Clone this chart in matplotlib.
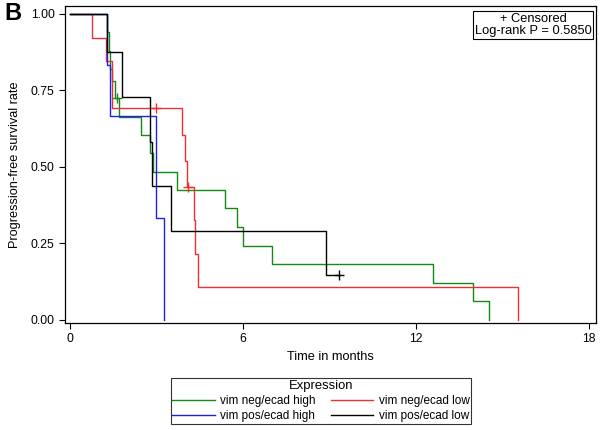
import matplotlib.pyplot as plt

plt.rcParams['font.family'] = ['Liberation Sans', 'DejaVu Sans']

# Kaplan-Meier step data (time in months, survival after each time)
green_t = [0, 1.3, 1.35, 1.4, 1.45, 1.55, 1.7, 2.46, 2.78, 2.9, 3.7, 5.4, 5.8, 6.0, 7.0, 12.6, 14.0, 14.55]
green_s = [1.0, 0.94, 0.88, 0.82, 0.78, 0.725, 0.663, 0.604, 0.545, 0.484, 0.425, 0.366, 0.304, 0.242, 0.183, 0.121, 0.061, 0.0]
green_cens_t = [1.64]
green_cens_s = [0.725]

red_t = [0, 0.76, 1.27, 1.47, 3.9, 4.0, 4.06, 4.3, 4.34, 4.44, 15.55]
red_s = [1.0, 0.923, 0.846, 0.692, 0.606, 0.519, 0.433, 0.325, 0.217, 0.108, 0.0]
red_cens_t = [3.0, 4.1]
red_cens_s = [0.692, 0.433]

blue_t = [0, 1.3, 1.4, 3.0, 3.27]
blue_s = [1.0, 0.833, 0.667, 0.333, 0.0]
blue_cens_t = []
blue_cens_s = []

black_t = [0, 1.3, 1.8, 2.78, 2.85, 3.5, 8.9, 9.35]
black_s = [1.0, 0.875, 0.729, 0.583, 0.4375, 0.292, 0.146, 0.146]
black_cens_t = [9.35]
black_cens_s = [0.146]

groups = ["vim neg/ecad high", "vim neg/ecad low", "vim pos/ecad high", "vim pos/ecad low"]
colors = ["#138a13", "#f03030", "#2020e0", "#000000"]

fig = plt.figure(figsize=(6.02, 4.3), dpi=100)
ax = fig.add_axes([65/602, 1-323/430, 531/602, 317/430])

series = [(green_t, green_s, green_cens_t, green_cens_s),
          (red_t, red_s, red_cens_t, red_cens_s),
          (blue_t, blue_s, blue_cens_t, blue_cens_s),
          (black_t, black_s, black_cens_t, black_cens_s)]
lines = []
for (t, s, ct, cs), name, c in zip(series, groups, colors):
    ln, = ax.step(t, s, where='post', color=c, lw=1.0, label=name)
    lines.append(ln)
    if ct:
        ax.plot(ct, cs, ls='none', marker='+', ms=7, mew=1.0, color=c)

ax.set_xlim(-0.17, 18.26)
ax.set_ylim(-0.01, 1.026)
ax.set_xticks([0, 6, 12, 18])
ax.set_yticks([0, 0.25, 0.5, 0.75, 1.0])
ax.set_yticklabels(["0.00", "0.25", "0.50", "0.75", "1.00"])
ax.tick_params(labelsize=8.8, length=4, width=0.8)
ax.set_xlabel('Time in months', fontsize=9.2)
ax.set_ylabel('Progression-free survival rate', fontsize=9.2, labelpad=7)
for sp in ax.spines.values():
    sp.set_linewidth(0.9)

fig.text(533/602, 1-25/430, "+ Censored\nLog-rank P = 0.5850", ha='center', va='center',
         fontsize=9.3, linespacing=1.1,
         bbox=dict(boxstyle='square,pad=0.12', fc='white', ec='black', lw=0.8))

leg = fig.legend([lines[0], lines[2], lines[1], lines[3]],
                 [groups[0], groups[2], groups[1], groups[3]],
                 ncol=2, loc='upper center', bbox_to_anchor=(321/602, 1-376/430),
                 title='Expression', fontsize=8.5, title_fontsize=9.4,
                 frameon=True, fancybox=False, edgecolor='black', handlelength=3.6,
                 borderpad=0.15, labelspacing=0.25, columnspacing=1.3, handletextpad=0.45,
                 borderaxespad=0.2)
leg.get_frame().set_linewidth(0.8)

fig.text(4/602, 1-13/430, 'B', fontsize=17, fontweight='bold', va='center', ha='left')

fig.savefig('out.png', dpi=100)
